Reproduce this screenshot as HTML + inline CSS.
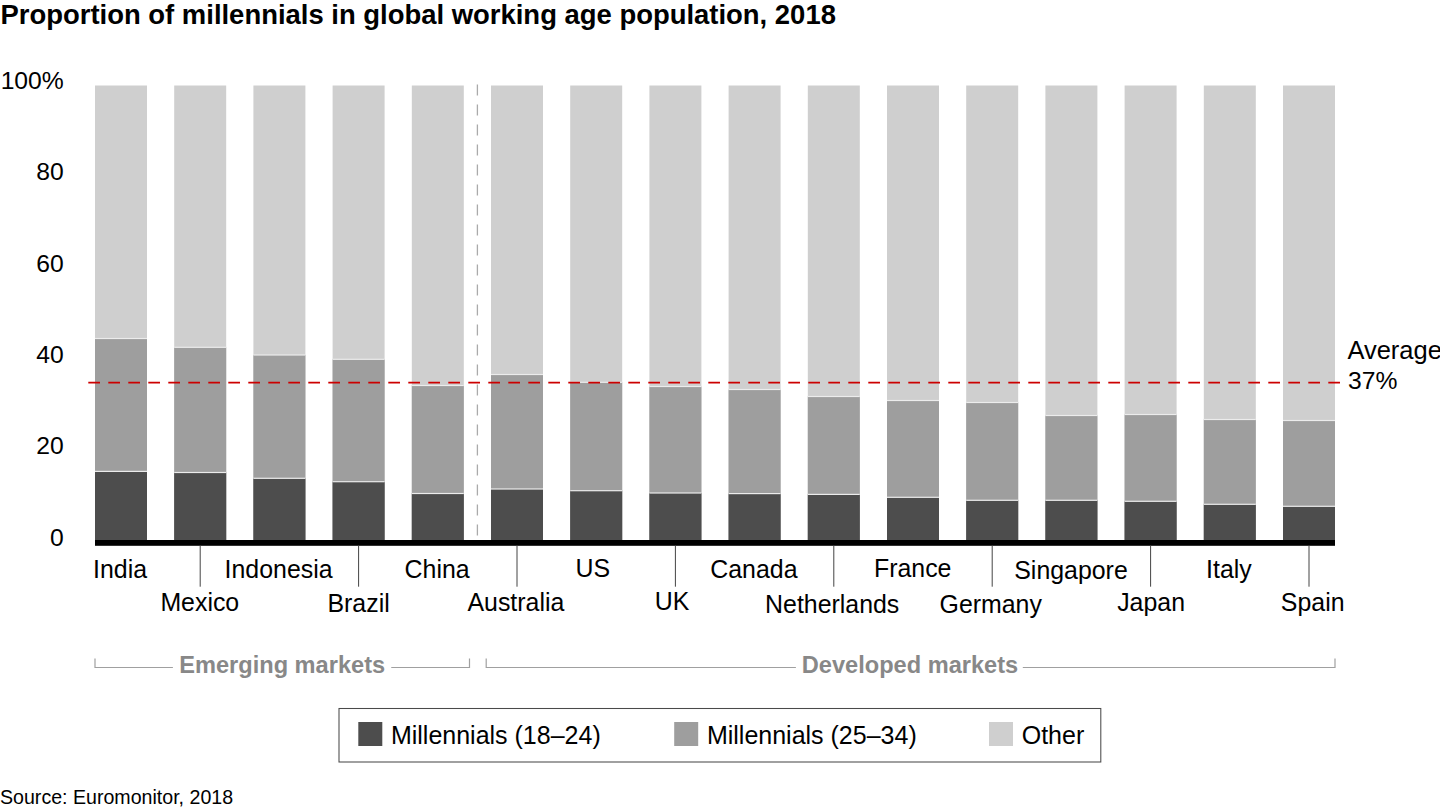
<!DOCTYPE html><html><head><meta charset="utf-8"><style>html,body{margin:0;padding:0;background:#fff;width:1440px;height:810px;overflow:hidden}svg{display:block}text{font-family:"Liberation Sans",sans-serif}</style></head><body>
<svg width="1440" height="810" viewBox="0 0 1440 810">
<text x="0.5" y="23.9" font-size="27.45" font-weight="bold" fill="#000">Proportion of millennials in global working age population, 2018</text>
<text x="63.8" y="88.6" font-size="24.7" text-anchor="end" fill="#000">100%</text>
<text x="63.8" y="180.06" font-size="24.7" text-anchor="end" fill="#000">80</text>
<text x="63.8" y="271.5" font-size="24.7" text-anchor="end" fill="#000">60</text>
<text x="63.8" y="363" font-size="24.7" text-anchor="end" fill="#000">40</text>
<text x="63.8" y="454.4" font-size="24.7" text-anchor="end" fill="#000">20</text>
<text x="63.8" y="545.9" font-size="24.7" text-anchor="end" fill="#000">0</text>
<rect x="95.00" y="85.5" width="52" height="454.5" fill="#cfcfcf"/>
<rect x="95.00" y="338.5" width="52" height="201.50" fill="#9e9e9e"/>
<rect x="95.00" y="471.4" width="52" height="68.60" fill="#4d4d4d"/>
<rect x="95.00" y="337.90" width="52" height="1.2" fill="#ececec"/>
<rect x="95.00" y="470.80" width="52" height="1.2" fill="#ececec"/>
<rect x="174.20" y="85.5" width="52" height="454.5" fill="#cfcfcf"/>
<rect x="174.20" y="347.3" width="52" height="192.70" fill="#9e9e9e"/>
<rect x="174.20" y="472.5" width="52" height="67.50" fill="#4d4d4d"/>
<rect x="174.20" y="346.70" width="52" height="1.2" fill="#ececec"/>
<rect x="174.20" y="471.90" width="52" height="1.2" fill="#ececec"/>
<rect x="253.40" y="85.5" width="52" height="454.5" fill="#cfcfcf"/>
<rect x="253.40" y="355" width="52" height="185.00" fill="#9e9e9e"/>
<rect x="253.40" y="478.3" width="52" height="61.70" fill="#4d4d4d"/>
<rect x="253.40" y="354.40" width="52" height="1.2" fill="#ececec"/>
<rect x="253.40" y="477.70" width="52" height="1.2" fill="#ececec"/>
<rect x="332.60" y="85.5" width="52" height="454.5" fill="#cfcfcf"/>
<rect x="332.60" y="359.3" width="52" height="180.70" fill="#9e9e9e"/>
<rect x="332.60" y="481.7" width="52" height="58.30" fill="#4d4d4d"/>
<rect x="332.60" y="358.70" width="52" height="1.2" fill="#ececec"/>
<rect x="332.60" y="481.10" width="52" height="1.2" fill="#ececec"/>
<rect x="411.80" y="85.5" width="52" height="454.5" fill="#cfcfcf"/>
<rect x="411.80" y="385.5" width="52" height="154.50" fill="#9e9e9e"/>
<rect x="411.80" y="493.5" width="52" height="46.50" fill="#4d4d4d"/>
<rect x="411.80" y="384.90" width="52" height="1.2" fill="#ececec"/>
<rect x="411.80" y="492.90" width="52" height="1.2" fill="#ececec"/>
<rect x="491.00" y="85.5" width="52" height="454.5" fill="#cfcfcf"/>
<rect x="491.00" y="374.5" width="52" height="165.50" fill="#9e9e9e"/>
<rect x="491.00" y="489" width="52" height="51.00" fill="#4d4d4d"/>
<rect x="491.00" y="373.90" width="52" height="1.2" fill="#ececec"/>
<rect x="491.00" y="488.40" width="52" height="1.2" fill="#ececec"/>
<rect x="570.20" y="85.5" width="52" height="454.5" fill="#cfcfcf"/>
<rect x="570.20" y="382.3" width="52" height="157.70" fill="#9e9e9e"/>
<rect x="570.20" y="490.7" width="52" height="49.30" fill="#4d4d4d"/>
<rect x="570.20" y="381.70" width="52" height="1.2" fill="#ececec"/>
<rect x="570.20" y="490.10" width="52" height="1.2" fill="#ececec"/>
<rect x="649.40" y="85.5" width="52" height="454.5" fill="#cfcfcf"/>
<rect x="649.40" y="386.5" width="52" height="153.50" fill="#9e9e9e"/>
<rect x="649.40" y="493" width="52" height="47.00" fill="#4d4d4d"/>
<rect x="649.40" y="385.90" width="52" height="1.2" fill="#ececec"/>
<rect x="649.40" y="492.40" width="52" height="1.2" fill="#ececec"/>
<rect x="728.60" y="85.5" width="52" height="454.5" fill="#cfcfcf"/>
<rect x="728.60" y="389.5" width="52" height="150.50" fill="#9e9e9e"/>
<rect x="728.60" y="493.6" width="52" height="46.40" fill="#4d4d4d"/>
<rect x="728.60" y="388.90" width="52" height="1.2" fill="#ececec"/>
<rect x="728.60" y="493.00" width="52" height="1.2" fill="#ececec"/>
<rect x="807.80" y="85.5" width="52" height="454.5" fill="#cfcfcf"/>
<rect x="807.80" y="396.5" width="52" height="143.50" fill="#9e9e9e"/>
<rect x="807.80" y="494.4" width="52" height="45.60" fill="#4d4d4d"/>
<rect x="807.80" y="395.90" width="52" height="1.2" fill="#ececec"/>
<rect x="807.80" y="493.80" width="52" height="1.2" fill="#ececec"/>
<rect x="887.00" y="85.5" width="52" height="454.5" fill="#cfcfcf"/>
<rect x="887.00" y="400.5" width="52" height="139.50" fill="#9e9e9e"/>
<rect x="887.00" y="497.3" width="52" height="42.70" fill="#4d4d4d"/>
<rect x="887.00" y="399.90" width="52" height="1.2" fill="#ececec"/>
<rect x="887.00" y="496.70" width="52" height="1.2" fill="#ececec"/>
<rect x="966.20" y="85.5" width="52" height="454.5" fill="#cfcfcf"/>
<rect x="966.20" y="402.5" width="52" height="137.50" fill="#9e9e9e"/>
<rect x="966.20" y="500.3" width="52" height="39.70" fill="#4d4d4d"/>
<rect x="966.20" y="401.90" width="52" height="1.2" fill="#ececec"/>
<rect x="966.20" y="499.70" width="52" height="1.2" fill="#ececec"/>
<rect x="1045.40" y="85.5" width="52" height="454.5" fill="#cfcfcf"/>
<rect x="1045.40" y="415.5" width="52" height="124.50" fill="#9e9e9e"/>
<rect x="1045.40" y="500.3" width="52" height="39.70" fill="#4d4d4d"/>
<rect x="1045.40" y="414.90" width="52" height="1.2" fill="#ececec"/>
<rect x="1045.40" y="499.70" width="52" height="1.2" fill="#ececec"/>
<rect x="1124.60" y="85.5" width="52" height="454.5" fill="#cfcfcf"/>
<rect x="1124.60" y="414.5" width="52" height="125.50" fill="#9e9e9e"/>
<rect x="1124.60" y="501.3" width="52" height="38.70" fill="#4d4d4d"/>
<rect x="1124.60" y="413.90" width="52" height="1.2" fill="#ececec"/>
<rect x="1124.60" y="500.70" width="52" height="1.2" fill="#ececec"/>
<rect x="1203.80" y="85.5" width="52" height="454.5" fill="#cfcfcf"/>
<rect x="1203.80" y="419.5" width="52" height="120.50" fill="#9e9e9e"/>
<rect x="1203.80" y="504.3" width="52" height="35.70" fill="#4d4d4d"/>
<rect x="1203.80" y="418.90" width="52" height="1.2" fill="#ececec"/>
<rect x="1203.80" y="503.70" width="52" height="1.2" fill="#ececec"/>
<rect x="1283.00" y="85.5" width="52" height="454.5" fill="#cfcfcf"/>
<rect x="1283.00" y="420.5" width="52" height="119.50" fill="#9e9e9e"/>
<rect x="1283.00" y="506.3" width="52" height="33.70" fill="#4d4d4d"/>
<rect x="1283.00" y="419.90" width="52" height="1.2" fill="#ececec"/>
<rect x="1283.00" y="505.70" width="52" height="1.2" fill="#ececec"/>
<line x1="477.4" y1="84.5" x2="477.4" y2="540" stroke="#aaaaaa" stroke-width="1.3" stroke-dasharray="11 9"/>
<line x1="88.3" y1="382.7" x2="1340" y2="382.7" stroke="#cc0000" stroke-width="1.7" stroke-dasharray="11.7 8.3"/>
<rect x="95" y="540" width="1240" height="5.8" fill="#000"/>
<text x="120.10" y="578.40" font-size="24.9" text-anchor="middle" fill="#000">India</text>
<line x1="200.20" y1="545.5" x2="200.20" y2="586.7" stroke="#444" stroke-width="1"/>
<text x="199.80" y="610.60" font-size="24.9" text-anchor="middle" fill="#000">Mexico</text>
<text x="278.60" y="578.20" font-size="24.9" text-anchor="middle" fill="#000">Indonesia</text>
<line x1="358.60" y1="545.5" x2="358.60" y2="586.7" stroke="#444" stroke-width="1"/>
<text x="358.60" y="611.60" font-size="24.9" text-anchor="middle" fill="#000">Brazil</text>
<text x="437.10" y="578.20" font-size="24.9" text-anchor="middle" fill="#000">China</text>
<line x1="517.00" y1="545.5" x2="517.00" y2="586.7" stroke="#444" stroke-width="1"/>
<text x="515.90" y="611.00" font-size="24.9" text-anchor="middle" fill="#000">Australia</text>
<text x="592.90" y="577.20" font-size="24.9" text-anchor="middle" fill="#000">US</text>
<line x1="675.40" y1="545.5" x2="675.40" y2="586.7" stroke="#444" stroke-width="1"/>
<text x="672.00" y="610.20" font-size="24.9" text-anchor="middle" fill="#000">UK</text>
<text x="753.90" y="577.70" font-size="24.9" text-anchor="middle" fill="#000">Canada</text>
<line x1="833.80" y1="545.5" x2="833.80" y2="586.7" stroke="#444" stroke-width="1"/>
<text x="832.20" y="613.30" font-size="24.9" text-anchor="middle" fill="#000">Netherlands</text>
<text x="912.70" y="577.20" font-size="24.9" text-anchor="middle" fill="#000">France</text>
<line x1="992.20" y1="545.5" x2="992.20" y2="586.7" stroke="#444" stroke-width="1"/>
<text x="990.70" y="612.60" font-size="24.9" text-anchor="middle" fill="#000">Germany</text>
<text x="1071.00" y="578.60" font-size="24.9" text-anchor="middle" fill="#000">Singapore</text>
<line x1="1150.60" y1="545.5" x2="1150.60" y2="586.7" stroke="#444" stroke-width="1"/>
<text x="1151.10" y="611.00" font-size="24.9" text-anchor="middle" fill="#000">Japan</text>
<text x="1228.90" y="578.20" font-size="24.9" text-anchor="middle" fill="#000">Italy</text>
<line x1="1309.00" y1="545.5" x2="1309.00" y2="586.7" stroke="#444" stroke-width="1"/>
<text x="1312.70" y="611.00" font-size="24.9" text-anchor="middle" fill="#000">Spain</text>
<polyline points="95,658.6 95,667.5 172.9,667.5" fill="none" stroke="#a0a0a0" stroke-width="1.2"/>
<polyline points="391.25,667.5 469.5,667.5 469.5,658.6" fill="none" stroke="#a0a0a0" stroke-width="1.2"/>
<polyline points="486.2,658.6 486.2,667.5 795.9,667.5" fill="none" stroke="#a0a0a0" stroke-width="1.2"/>
<polyline points="1022.8,667.5 1335,667.5 1335,658.6" fill="none" stroke="#a0a0a0" stroke-width="1.2"/>
<text x="282.2" y="672.8" font-size="23.6" font-weight="bold" text-anchor="middle" fill="#888">Emerging markets</text>
<text x="910" y="672.8" font-size="23.6" font-weight="bold" text-anchor="middle" fill="#888">Developed markets</text>
<text x="1347.4" y="359.0" font-size="25.5" fill="#000">Average</text>
<text x="1348" y="388.8" font-size="24.7" fill="#000">37%</text>
<rect x="339.0" y="708.5" width="761.8" height="53.5" fill="none" stroke="#4a4a4a" stroke-width="1.05"/>
<rect x="358.3" y="722" width="24" height="24" fill="#4d4d4d"/>
<text x="390.9" y="744.0" font-size="25.0" fill="#000">Millennials (18–24)</text>
<rect x="674.2" y="722" width="24" height="24" fill="#9e9e9e"/>
<text x="706.9" y="744.0" font-size="25.0" fill="#000">Millennials (25–34)</text>
<rect x="989" y="722" width="24" height="24" fill="#cfcfcf"/>
<text x="1021.7" y="744.0" font-size="25.0" fill="#000">Other</text>
<text x="0" y="804.1" font-size="19.6" fill="#000">Source: Euromonitor, 2018</text>
</svg></body></html>
